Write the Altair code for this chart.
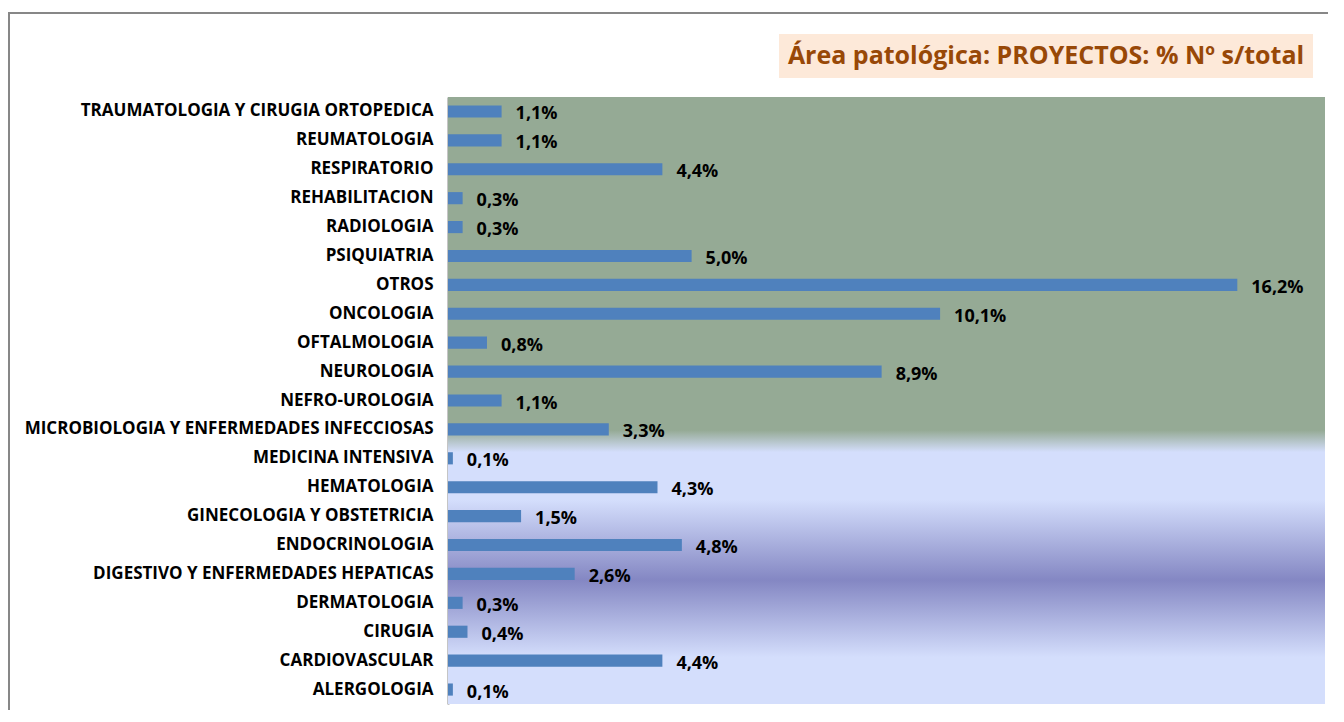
import altair as alt
import pandas as pd

categories = [
    "TRAUMATOLOGIA Y CIRUGIA ORTOPEDICA",
    "REUMATOLOGIA",
    "RESPIRATORIO",
    "REHABILITACION",
    "RADIOLOGIA",
    "PSIQUIATRIA",
    "OTROS",
    "ONCOLOGIA",
    "OFTALMOLOGIA",
    "NEUROLOGIA",
    "NEFRO-UROLOGIA",
    "MICROBIOLOGIA Y ENFERMEDADES INFECCIOSAS",
    "MEDICINA INTENSIVA",
    "HEMATOLOGIA",
    "GINECOLOGIA Y OBSTETRICIA",
    "ENDOCRINOLOGIA",
    "DIGESTIVO Y ENFERMEDADES HEPATICAS",
    "DERMATOLOGIA",
    "CIRUGIA",
    "CARDIOVASCULAR",
    "ALERGOLOGIA",
]
values = [1.1, 1.1, 4.4, 0.3, 0.3, 5.0, 16.2, 10.1, 0.8, 8.9, 1.1, 3.3,
          0.1, 4.3, 1.5, 4.8, 2.6, 0.3, 0.4, 4.4, 0.1]

title_text = "Área patológica: PROYECTOS: % Nº s/total"

df = pd.DataFrame({"cat": categories, "val": values})
df["lab"] = df["val"].map(lambda v: f"{v:.1f}".replace(".", ",") + "%")

W, H = 877, 607
FONT = "Open Sans"

bg = alt.Chart(alt.Data(values=[{}])).mark_rect(
    color=alt.Gradient(
        gradient="linear", x1=0, x2=0, y1=0, y2=1,
        stops=[
            alt.GradientStop(color="#95aa95", offset=0),
            alt.GradientStop(color="#95aa95", offset=0.549),
            alt.GradientStop(color="#d4defc", offset=0.585),
            alt.GradientStop(color="#d4defc", offset=0.664),
            alt.GradientStop(color="#8487c3", offset=0.796),
            alt.GradientStop(color="#d4defc", offset=0.923),
            alt.GradientStop(color="#d4defc", offset=1),
        ],
    )
).encode(x=alt.value(0), x2=alt.value(W), y=alt.value(0), y2=alt.value(H))

border = alt.Chart(alt.Data(values=[{}])).mark_rect(
    fillOpacity=0, stroke="#878787", strokeWidth=2
).encode(x=alt.value(-439), x2=alt.value(W + 200), y=alt.value(-84), y2=alt.value(H + 200))

title_box = alt.Chart(alt.Data(values=[{}])).mark_rect(color="#fde9d9").encode(
    x=alt.value(331), x2=alt.value(865), y=alt.value(-63), y2=alt.value(-19)
)
title_txt = alt.Chart(alt.Data(values=[{"t": title_text}])).mark_text(
    font=FONT, fontSize=25, fontWeight="bold", color="#984807",
    align="center", baseline="middle"
).encode(x=alt.value(598), y=alt.value(-41), text="t:N")

label_expr = (
    "datum.label == 'CIRUGIA' ? 'CIRUGIA\u00a0\u00a0' : "
    "(datum.label == 'NEFRO-UROLOGIA' || datum.label == 'RESPIRATORIO') ? datum.label + '\u00a0' : datum.label"
)

yenc = alt.Y(
    "cat:N", sort=categories,
    scale=alt.Scale(paddingInner=0.58, paddingOuter=0.29),
    axis=alt.Axis(
        title=None, ticks=False, domain=True, domainColor="#8c8c8c", domainWidth=2,
        labelFont=FONT, labelFontSize=17, labelFontWeight="bold", labelColor="#000000",
        labelPadding=15, labelLimit=500, labelExpr=label_expr,
    ),
)
xenc = alt.X("val:Q", scale=alt.Scale(domain=[0, 18]), axis=None)

bars = alt.Chart(df).mark_bar(color="#4f81bd").encode(x=xenc, y=yenc)
labels = alt.Chart(df).mark_text(
    align="left", baseline="middle", dx=14, dy=3, font=FONT, fontSize=18,
    fontWeight="bold", color="#000000"
).encode(x=xenc, y=alt.Y("cat:N", sort=categories), text="lab:N")

chart = alt.layer(border, bg, title_box, title_txt, bars, labels).properties(
    width=W, height=H,
    autosize=alt.AutoSizeParams(type="none"),
    padding={"left": 440, "top": 89, "right": 3, "bottom": 6},
    background="white",
).configure_view(stroke=None)

chart.save("out.html", embed_options={"renderer": "svg", "actions": False})
